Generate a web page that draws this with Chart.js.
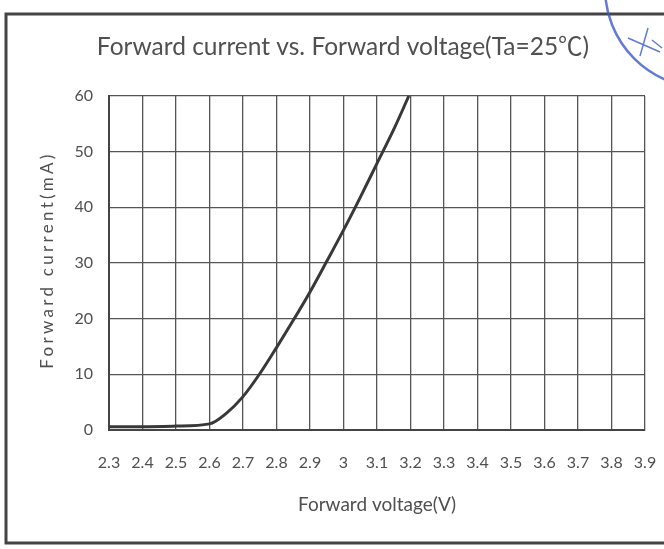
<!DOCTYPE html>
<html>
<head>
<meta charset="utf-8">
<script src="https://cdn.jsdelivr.net/npm/chart.js@4/dist/chart.umd.min.js"></script>
<style>
  html, body { margin: 0; padding: 0; background: #fff; }
  canvas { display: block; }
</style>
</head>
<body>
<canvas id="ivChart" width="664" height="549"></canvas>
<script>
// Forward voltage (V) and forward current (mA)
const voltage = [2.3, 2.4, 2.5, 2.6, 2.65, 2.7, 2.75, 2.8, 2.85, 2.9, 2.95, 3.0, 3.05, 3.1, 3.15, 3.195];
const current = [0.6, 0.6, 0.7, 1.1, 3.0, 6.0, 10.1, 14.8, 19.7, 24.8, 30.3, 35.9, 41.8, 47.9, 54.0, 60];

const xTicks = [2.3, 2.4, 2.5, 2.6, 2.7, 2.8, 2.9, 3.0, 3.1, 3.2, 3.3, 3.4, 3.5, 3.6, 3.7, 3.8, 3.9];
const yTicks = [0, 10, 20, 30, 40, 50, 60];

const chartTitle = 'Forward current vs. Forward voltage(Ta=25\u2103)';
const xTitle = 'Forward voltage(V)';
const yTitle = 'Forward current(mA)';

const textColor = '#505050';
const gridColor = '#555';

// frame, stamp and titles drawn straight on the canvas
const paperPlugin = {
    id: 'paper',
    beforeDraw(chart) {
        const c = chart.ctx;
        c.save();
        c.fillStyle = '#fff';
        c.fillRect(0, 0, chart.width, chart.height);
        c.strokeStyle = '#444';
        c.lineWidth = 3;
        c.beginPath();
        c.moveTo(chart.width, 14);
        c.lineTo(6, 14);
        c.lineTo(6, 543);
        c.lineTo(chart.width, 543);
        c.stroke();
        c.restore();
    },
    afterDraw(chart) {
        const c = chart.ctx;
        c.save();
        c.fillStyle = textColor;
        c.textAlign = 'center';
        c.textBaseline = 'middle';
        c.font = '24.5px Lato, "Noto Sans CJK SC", sans-serif';
        c.fillText(chartTitle, 343, 47);

        c.translate(48, 260);
        c.rotate(-Math.PI / 2);
        c.font = '17px Lato, sans-serif';
        c.letterSpacing = '3.3px';
        c.fillText(yTitle, 0, 0);
        c.restore();

        // blue stamp edge in the corner
        c.save();
        c.strokeStyle = 'rgba(60,90,200,0.8)';
        c.lineWidth = 2.5;
        c.beginPath();
        c.arc(705, -12, 100, Math.PI * 0.5, Math.PI * 1.0);
        c.stroke();
        c.lineWidth = 1.5;
        c.beginPath();
        c.moveTo(628, 38);
        c.lineTo(660, 52);
        c.moveTo(648, 28);
        c.lineTo(640, 56);
        c.moveTo(652, 40);
        c.lineTo(662, 48);
        c.stroke();
        c.restore();
    }
};

const ctx = document.getElementById('ivChart').getContext('2d');

new Chart(ctx, {
    type: 'line',
    data: {
        datasets: [{
            data: voltage.map((v, i) => ({ x: v, y: current[i] })),
            borderColor: '#383838',
            borderWidth: 3,
            pointRadius: 0,
            cubicInterpolationMode: 'monotone',
            fill: false
        }]
    },
    options: {
        responsive: false,
        animation: false,
        layout: { padding: { left: 10, right: 19, top: 96, bottom: 10 } },
        plugins: {
            legend: { display: false },
            tooltip: { enabled: false }
        },
        scales: {
            x: {
                type: 'linear',
                min: 2.3,
                max: 3.9,
                afterBuildTicks: s => { s.ticks = xTicks.map(v => ({ value: v })); },
                afterFit: s => { s.height = 109; s.paddingLeft = 0; s.paddingRight = 0; },
                grid: { color: gridColor, lineWidth: 1.3, drawTicks: false },
                border: { color: '#444', width: 2 },
                ticks: {
                    autoSkip: false,
                    maxRotation: 0,
                    padding: 23,
                    color: textColor,
                    font: { family: 'Lato', size: 16 },
                    callback: v => String(Number(v.toFixed(1)))
                },
                title: {
                    display: true,
                    text: xTitle,
                    color: textColor,
                    font: { family: 'Lato', size: 19 },
                    padding: { top: 0, bottom: 22.6 }
                }
            },
            y: {
                min: 0,
                max: 60,
                afterBuildTicks: s => { s.ticks = yTicks.map(v => ({ value: v })); },
                afterFit: s => { s.width = 99; s.paddingTop = 0; s.paddingBottom = 0; },
                grid: { color: gridColor, lineWidth: 1.3, drawTicks: false },
                border: { color: '#444', width: 2 },
                ticks: {
                    padding: 16,
                    color: textColor,
                    font: { family: 'Lato', size: 16 }
                }
            }
        }
    },
    plugins: [paperPlugin]
});
</script>
</body>
</html>
